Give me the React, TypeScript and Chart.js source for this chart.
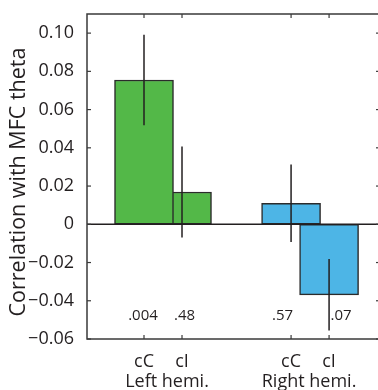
import React, { useEffect, useRef } from "react";
import { Chart, registerables } from "chart.js";

Chart.register(...registerables);

// Correlation of each condition with MFC theta, per hemisphere
const conditions = ["cC", "cI", "cC", "cI"];
const hemispheres = ["Left hemi.", "Right hemi."];
// bar centres along the x axis (axis runs from 0 to X_MAX)
const barSlots = [1.5, 2.5, 5.37, 6.37];
const correlations = [0.0755, 0.0169, 0.011, -0.0369];
const errors = [0.0237, 0.0238, 0.0203, 0.0187];
const pValues = [".004", ".48", ".57", ".07"];
const yTicks = [-0.06, -0.04, -0.02, 0, 0.02, 0.04, 0.06, 0.08, 0.1];
const yTitle = "Correlation with MFC theta";

const X_MAX = 7.71;
const Y_MIN = -0.06;
const Y_MAX = 0.11;

const GREEN = "#53b848";
const BLUE = "#4db5e6";
const INK = "#231f20";
const AXIS = "#3a3a3a";
const FONT = '"Open Sans", "Noto Sans", sans-serif';
const hemiColor = [GREEN, GREEN, BLUE, BLUE];

// small horizontal nudges (px) for the p-value and hemisphere captions
const pShift = [-1, 2.5, -8.5, 12];
const groupShift = [4, -1];

const fmtTick = (v: number) =>
  Math.abs(v) < 1e-9 ? "0" : (v < 0 ? "\u2212" : "") + Math.abs(v).toFixed(2);

const decorations = {
  id: "decorations",
  afterDatasetsDraw(chart: any) {
    const { ctx, chartArea: a, scales } = chart;
    const xs = scales.x;
    const ys = scales.y;
    const seg = (x1: number, y1: number, x2: number, y2: number) => {
      ctx.beginPath();
      ctx.moveTo(x1, y1);
      ctx.lineTo(x2, y2);
      ctx.stroke();
    };
    ctx.save();
    ctx.lineCap = "butt";

    // zero line
    ctx.strokeStyle = INK;
    ctx.lineWidth = 1.5;
    const y0 = ys.getPixelForValue(0);
    seg(a.left, y0, a.right, y0);

    // error bars
    barSlots.forEach((s, i) => {
      const px = xs.getPixelForValue(s);
      seg(
        px,
        ys.getPixelForValue(correlations[i] + errors[i]),
        px,
        ys.getPixelForValue(correlations[i] - errors[i])
      );
    });

    // frame and inward tick marks
    ctx.strokeStyle = AXIS;
    ctx.lineWidth = 1.5;
    ctx.strokeRect(a.left, a.top, a.right - a.left, a.bottom - a.top);
    ctx.lineWidth = 1.2;
    yTicks.forEach((v) => {
      const py = ys.getPixelForValue(v);
      seg(a.left, py, a.left + 4, py);
      seg(a.right - 4, py, a.right, py);
    });
    barSlots.forEach((s) => {
      const px = xs.getPixelForValue(s);
      seg(px, a.bottom, px, a.bottom - 4);
      seg(px, a.top, px, a.top + 4);
    });

    // p-values
    ctx.fillStyle = INK;
    ctx.textAlign = "center";
    ctx.textBaseline = "alphabetic";
    ctx.font = `15px ${FONT}`;
    barSlots.forEach((s, i) => {
      ctx.fillText(pValues[i], xs.getPixelForValue(s) + pShift[i], a.bottom - 19.5);
    });

    // hemisphere captions
    ctx.font = `18px ${FONT}`;
    hemispheres.forEach((h, g) => {
      const cx =
        (xs.getPixelForValue(barSlots[2 * g]) + xs.getPixelForValue(barSlots[2 * g + 1])) / 2;
      ctx.fillText(h, cx + groupShift[g], a.bottom + 47.5);
    });

    // rotated y-axis title, a little below the plot's middle
    ctx.font = `21.5px ${FONT}`;
    ctx.textBaseline = "alphabetic";
    ctx.translate(25, (a.top + a.bottom) / 2 + 5.5);
    ctx.rotate(-Math.PI / 2);
    ctx.fillText(yTitle, 0, 0);
    ctx.restore();
  },
};

export default function App() {
  const canvasRef = useRef<HTMLCanvasElement | null>(null);

  useEffect(() => {
    const canvas = canvasRef.current;
    if (!canvas) return;
    document.body.style.margin = "0";
    document.body.style.overflow = "hidden";

    const datasets = [0, 1].map((k) => {
      const idx = [k, k + 2];
      return {
        label: conditions[k],
        data: idx.map((i) => ({ x: barSlots[i], y: correlations[i] })),
        backgroundColor: idx.map((i) => hemiColor[i]),
        borderColor: "#2b2b2b",
        borderWidth: 1.5,
        borderSkipped: false,
        barThickness: 59,
        grouped: false,
      };
    });

    const chart = new Chart(canvas, {
      type: "bar",
      data: { datasets } as any,
      options: {
        animation: false,
        responsive: false,
        devicePixelRatio: 1,
        layout: { padding: { top: 10, right: 4, bottom: 0, left: 0 } },
        plugins: { legend: { display: false }, tooltip: { enabled: false } },
        scales: {
          x: {
            type: "linear",
            min: 0,
            max: X_MAX,
            offset: false,
            grid: { display: false },
            border: { display: false },
            afterBuildTicks: (s: any) => {
              s.ticks = barSlots.map((v) => ({ value: v }));
            },
            afterFit: (s: any) => {
              s.height = 51;
            },
            ticks: {
              autoSkip: false,
              maxRotation: 0,
              padding: 4,
              color: INK,
              font: { family: FONT, size: 18, lineHeight: 1.2 },
              callback: (_v: any, i: number) => conditions[i],
            },
          },
          y: {
            type: "linear",
            min: Y_MIN,
            max: Y_MAX,
            grid: { display: false },
            border: { display: false },
            afterBuildTicks: (s: any) => {
              s.ticks = yTicks.map((v) => ({ value: v }));
            },
            afterFit: (s: any) => {
              s.width = 87;
            },
            ticks: {
              padding: 5,
              color: INK,
              font: { family: FONT, size: 18, lineHeight: 1 },
              callback: (v: any) => fmtTick(Number(v)),
            },
          },
        },
      },
      plugins: [decorations],
    });

    return () => chart.destroy();
  }, []);

  return (
    <div
      style={{
        position: "fixed",
        left: 0,
        top: 0,
        width: 378,
        height: 390,
        overflow: "hidden",
        background: "#fff",
      }}
    >
      <canvas ref={canvasRef} width={384} height={390} style={{ display: "block" }} />
    </div>
  );
}
